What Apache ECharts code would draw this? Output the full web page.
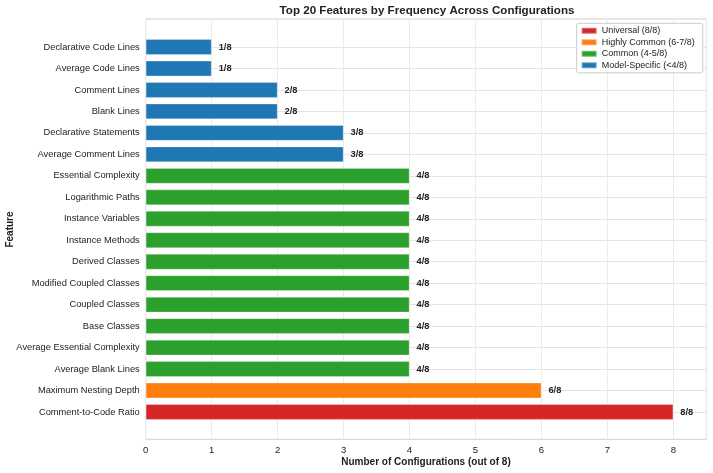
<!DOCTYPE html>
<html>
<head>
<meta charset="utf-8">
<script src="https://cdn.jsdelivr.net/npm/echarts@6/dist/echarts.min.js"></script>
<style>html,body{margin:0;padding:0;background:#fff;}#chart{width:713px;height:473px;}</style>
</head>
<body>
<div id="chart"></div>
<script>
// Features ordered from bottom (most frequent) to top
var features = [
  'Comment-to-Code Ratio', 'Maximum Nesting Depth', 'Average Blank Lines',
  'Average Essential Complexity', 'Base Classes', 'Coupled Classes',
  'Modified Coupled Classes', 'Derived Classes', 'Instance Methods',
  'Instance Variables', 'Logarithmic Paths', 'Essential Complexity',
  'Average Comment Lines', 'Declarative Statements', 'Blank Lines',
  'Comment Lines', 'Average Code Lines', 'Declarative Code Lines'
];
var counts = [8, 6, 4, 4, 4, 4, 4, 4, 4, 4, 4, 4, 3, 3, 2, 2, 1, 1];
var total = 8;
var groupNames = ['Universal (8/8)', 'Highly Common (6-7/8)', 'Common (4-5/8)', 'Model-Specific (<4/8)'];
var groupColors = ['#d62728', '#ff7f0e', '#2ca02c', '#1f77b4'];
var xTicks = [0, 1, 2, 3, 4, 5, 6, 7, 8];

function groupOf(v) {
  if (v === 8) return 0;
  if (v >= 6) return 1;
  if (v >= 4) return 2;
  return 3;
}

var FONT = '"Liberation Sans", Arial, Helvetica, sans-serif';
var chart = echarts.init(document.getElementById('chart'), null, {renderer: 'canvas'});

var series = groupNames.map(function (name, g) {
  return {
    name: name,
    type: 'bar',
    xAxisIndex: 2,
    yAxisIndex: 2,
    stack: 'all',
    barWidth: '73%',
    itemStyle: {color: groupColors[g], borderColor: 'rgba(255,255,255,0.35)', borderWidth: 0.8},
    label: {
      show: true, position: 'right', distance: 7,
      fontFamily: FONT, fontSize: 9.3, fontWeight: 'bold', color: '#222',
      formatter: function (p) { return p.value + '/' + total; }
    },
    data: counts.map(function (v) { return groupOf(v) === g ? v : '-'; }),
    z: 3
  };
});

chart.setOption({
  animation: false,
  backgroundColor: '#fff',
  textStyle: {fontFamily: FONT},
  title: {
    text: 'Top 20 Features by Frequency Across Configurations',
    left: 427, top: 4.5, padding: 0, textAlign: 'center',
    textStyle: {fontFamily: FONT, fontSize: 11.6, fontWeight: 'bold', color: '#222'}
  },
  legend: {
    orient: 'vertical', right: 10.3, top: 23.3,
    data: groupNames,
    icon: 'rect', itemWidth: 15, itemHeight: 6, itemGap: 0.5,
    padding: [2, 8, 2, 4],
    backgroundColor: '#fff', borderColor: '#cccccc', borderWidth: 1, borderRadius: 2,
    textStyle: {fontFamily: FONT, fontSize: 9, color: '#222', lineHeight: 11},
    selectedMode: false, z: 10
  },
  grid: [
    {left: 145.7, right: 6.7, top: 19, bottom: 33.7, show: true, borderColor: '#d0d0d0', borderWidth: 1, backgroundColor: 'transparent', z: 0, outerBoundsMode: 'none', containLabel: false},
    {left: 145.7, right: 6.7, top: 47, bottom: 61, show: false, outerBoundsMode: 'none', containLabel: false},
    {left: 145.7, right: 6.7, top: 36.3, bottom: 50.3, show: false, outerBoundsMode: 'none', containLabel: false}
  ],
  xAxis: [
    {
      gridIndex: 0, type: 'value', min: 0, max: 8.5, interval: 1,
      axisLine: {show: false}, axisTick: {show: false},
      axisLabel: {fontFamily: FONT, fontSize: 9.5, color: '#222', margin: 6, showMaxLabel: false,
        formatter: function (v) { return xTicks.indexOf(v) >= 0 ? String(v) : ''; }},
      splitLine: {show: true, lineStyle: {color: '#ebebeb', width: 1}},
      name: 'Number of Configurations (out of 8)', nameLocation: 'middle', nameGap: 18,
      nameMoveOverlap: false,
      nameTextStyle: {fontFamily: FONT, fontSize: 10, fontWeight: 'bold', color: '#222'}
    },
    {gridIndex: 1, type: 'value', min: 0, max: 8.5, show: false},
    {gridIndex: 2, type: 'value', min: 0, max: 8.5, show: false}
  ],
  yAxis: [
    {gridIndex: 0, type: 'value', show: false, splitLine: {show: false}},
    {
      gridIndex: 1, type: 'category', data: features, boundaryGap: false,
      axisLine: {show: false}, axisTick: {show: false}, axisLabel: {show: false, interval: 0},
      splitLine: {show: true, interval: 0, lineStyle: {color: '#e3e3e3', width: 1}}
    },
    {
      gridIndex: 2, type: 'category', data: features,
      axisLine: {show: false}, axisTick: {show: false},
      axisLabel: {interval: 0, fontFamily: FONT, fontSize: 9.3, color: '#222', margin: 6},
      splitLine: {show: false},
      name: 'Feature', nameLocation: 'middle', nameGap: 130, nameRotate: 90,
      nameMoveOverlap: false,
      nameTextStyle: {fontFamily: FONT, fontSize: 10, fontWeight: 'bold', color: '#222'}
    }
  ],
  series: series
});
</script>
</body>
</html>
